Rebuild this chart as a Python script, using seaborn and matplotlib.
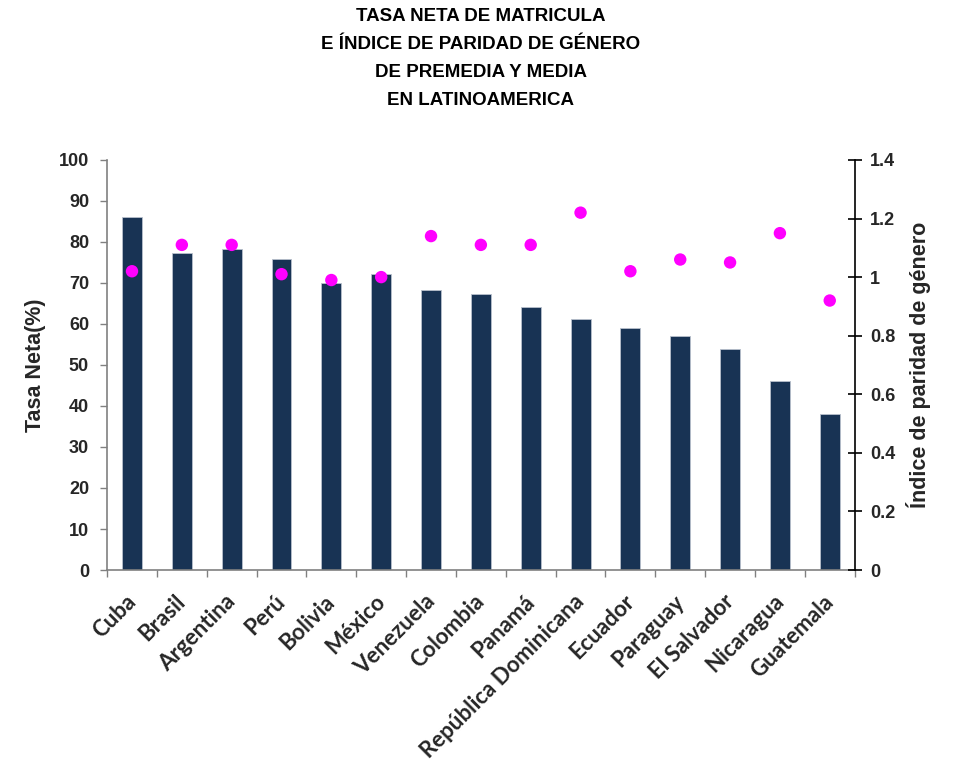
import matplotlib.pyplot as plt
import matplotlib.transforms as mtransforms
from matplotlib.ticker import FixedLocator, FuncFormatter
import numpy as np
import pandas as pd
import seaborn as sns

paises = ["Cuba", "Brasil", "Argentina", "Perú", "Bolivia", "México", "Venezuela",
          "Colombia", "Panamá", "República Dominicana", "Ecuador", "Paraguay",
          "El Salvador", "Nicaragua", "Guatemala"]
tasa_neta = [86.0, 77.3, 78.2, 75.9, 70.0, 72.3, 68.2, 67.2, 64.1, 61.2, 58.9, 57.1, 54.0, 46.2, 38.0]
indice_paridad = [1.02, 1.11, 1.11, 1.01, 0.99, 1.00, 1.14, 1.11, 1.11, 1.22, 1.02, 1.06, 1.05, 1.15, 0.92]

titulo = "TASA NETA DE MATRICULA\nE ÍNDICE DE PARIDAD DE GÉNERO\nDE PREMEDIA Y MEDIA\nEN LATINOAMERICA"

sns.set_style("white")
plt.rcParams["font.family"] = ["Liberation Sans", "DejaVu Sans"]

df = pd.DataFrame({"pais": paises, "tasa": tasa_neta, "indice": indice_paridad})

fig = plt.figure(figsize=(9.56, 7.73), dpi=100)
ax = fig.add_axes([0.112, 0.2626, 0.782, 0.5305])

sns.barplot(data=df, x="pais", y="tasa", color="#183354", width=0.4,
            edgecolor="#b8c0cc", linewidth=0.6, saturation=1, ax=ax)
ax.set_xlim(-0.5, len(paises) - 0.5)
ax.set_ylim(0, 100)
ax.set_yticks(np.arange(0, 101, 10))
ax.set_ylabel("Tasa Neta(%)", fontsize=15.5, fontweight="bold", labelpad=9)
ax.set_xlabel("")

for lbl in ax.get_yticklabels():
    lbl.set_fontweight("bold")
    lbl.set_fontsize(13)
ax.tick_params(axis="y", direction="out", length=5, width=1, color="#808080", pad=8, left=True)

# marcas del eje x entre categorías
ax.xaxis.set_minor_locator(FixedLocator(np.arange(-0.5, len(paises), 1.0)))
ax.tick_params(axis="x", which="major", length=0, pad=15)
ax.tick_params(axis="x", which="minor", direction="out", length=5, width=1, color="#808080", bottom=True)
ax.set_xticks(range(len(paises)))
ax.set_xticklabels(paises, rotation=45, ha="right", rotation_mode="anchor",
                   fontsize=16, fontweight="bold", family=["Lato", "DejaVu Sans"])
offset = mtransforms.ScaledTranslation(-7 / 100, 0, fig.dpi_scale_trans)
for lbl in ax.get_xticklabels():
    lbl.set_transform(lbl.get_transform() + offset)

for side in ["top", "right"]:
    ax.spines[side].set_visible(False)
for side in ["left", "bottom"]:
    ax.spines[side].set_color("#808080")
    ax.spines[side].set_linewidth(1.2)

ax2 = ax.twinx()
sns.scatterplot(data=df, x="pais", y="indice", color="#ff00ff", s=80,
                edgecolor="none", ax=ax2, legend=False, zorder=5)
ax2.set_xlim(-0.5, len(paises) - 0.5)
ax2.set_ylim(0, 1.4)
ax2.set_yticks(np.arange(0, 1.41, 0.2))
ax2.yaxis.set_major_formatter(FuncFormatter(lambda v, p: f"{v:g}" if abs(v - round(v)) > 1e-9 else f"{int(round(v))}"))
ax2.set_ylabel("Índice de paridad de género", fontsize=15.5, fontweight="bold", labelpad=8)
ax2.set_xlabel("")
for lbl in ax2.get_yticklabels():
    lbl.set_fontweight("bold")
    lbl.set_fontsize(13)
ax2.tick_params(axis="y", direction="inout", length=10, width=1.2, color="black", right=True, pad=6)
for side in ["top", "left", "bottom"]:
    ax2.spines[side].set_visible(False)
ax2.spines["right"].set_color("black")
ax2.spines["right"].set_linewidth(1.2)

fig.text(0.503, 0.99, titulo, ha="center", va="top", fontsize=13.5, fontweight="bold",
         color="black", linespacing=1.85)

fig.savefig("out.png", dpi=100)
plt.close(fig)
